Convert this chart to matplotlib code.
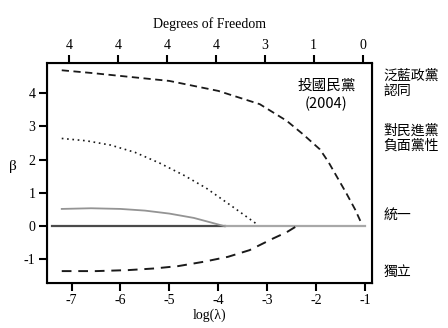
import matplotlib
matplotlib.use('Agg')
import matplotlib.pyplot as plt

# coefficient paths (x = log(lambda), y = beta)
blue_x = [-7.2, -6.6, -6.0, -5.0, -4.0, -3.15, -2.6, -2.27, -1.92, -1.75, -1.38, -1.2, -1.07]
blue_y = [4.69, 4.61, 4.52, 4.37, 4.07, 3.67, 3.17, 2.77, 2.31, 1.94, 0.99, 0.5, 0.08]

dpp_x = [-7.2, -6.7, -6.2, -5.7, -5.2, -4.7, -4.25, -3.7, -3.18]
dpp_y = [2.64, 2.57, 2.44, 2.22, 1.90, 1.53, 1.15, 0.58, 0.03]

unif_x = [-7.2, -6.6, -6.0, -5.5, -5.0, -4.5, -4.17, -3.87]
unif_y = [0.52, 0.54, 0.52, 0.47, 0.38, 0.25, 0.12, 0.0]

indep_x = [-7.2, -6.5, -5.84, -5.3, -4.82, -4.3, -3.8, -3.36, -2.88, -2.6, -2.4]
indep_y = [-1.35, -1.35, -1.32, -1.27, -1.20, -1.07, -0.92, -0.72, -0.37, -0.18, 0.0]

zero_dark_x = [-7.4, -3.87]
zero_light_x = [-3.87, -1.0]

x_ticks = [-7, -6, -5, -4, -3, -2, -1]
y_ticks = [-1, 0, 1, 2, 3, 4]
df_pos = [-7.05, -6.05, -5.05, -4.05, -3.05, -2.05, -1.05]
df_labels = ['4', '4', '4', '4', '3', '1', '0']

right_labels = ['泛藍政黨\n認同', '對民進黨\n負面黨性', '統一', '獨立']
right_y = [4.3, 2.65, 0.33, -1.37]

serif = ['Liberation Serif', 'Noto Sans CJK TC']
cjk = ['Noto Sans CJK TC', 'Liberation Serif']
plt.rcParams['font.family'] = serif

fig = plt.figure(figsize=(4.48, 3.28), dpi=100)
ax = fig.add_axes([0.104, 0.138, 0.727, 0.669])

ax.plot(zero_dark_x, [0, 0], color='#4a4a4a', lw=1.6)
ax.plot(zero_light_x, [0, 0], color='#a8a8a8', lw=1.6)
ax.plot(blue_x, blue_y, color='#1a1a1a', lw=1.3, dashes=(4, 2.5))
ax.plot(dpp_x, dpp_y, color='#1a1a1a', lw=1.2, dashes=(1, 2.2))
ax.plot(unif_x, unif_y, color='#949494', lw=1.3)
ax.plot(indep_x, indep_y, color='#1a1a1a', lw=1.4, dashes=(5, 3.5))

ax.set_xlim(-7.51, -0.85)
ax.set_ylim(-1.70, 4.90)
ax.set_xticks(x_ticks)
ax.set_xticklabels([str(v) for v in x_ticks])
ax.set_yticks(y_ticks)
ax.set_yticklabels([str(v) for v in y_ticks])
ax.tick_params(direction='out', length=6, width=1.5, labelsize=10, pad=2)
for s in ax.spines.values():
    s.set_linewidth(1.5)
ax.set_xlabel('log(λ)', fontsize=10, labelpad=1)
ax.set_ylabel('β', fontsize=11, rotation=0, labelpad=8)

top = ax.twiny()
top.set_xlim(ax.get_xlim())
top.set_xticks(df_pos)
top.set_xticklabels(df_labels)
top.tick_params(direction='out', length=6, width=1.5, labelsize=10, pad=2)
top.set_xlabel('Degrees of Freedom', fontsize=10, labelpad=8)

ax.text(-1.79, 3.95, '投國民黨\n(2004)', ha='center', va='center',
        fontsize=10.5, family=cjk, linespacing=1.3)

for lab, yv in zip(right_labels, right_y):
    ax.text(1.035, yv, lab, transform=ax.get_yaxis_transform(), ha='left',
            va='center', fontsize=10, family=cjk, linespacing=1.1, clip_on=False)

fig.savefig('out.png', dpi=100)
